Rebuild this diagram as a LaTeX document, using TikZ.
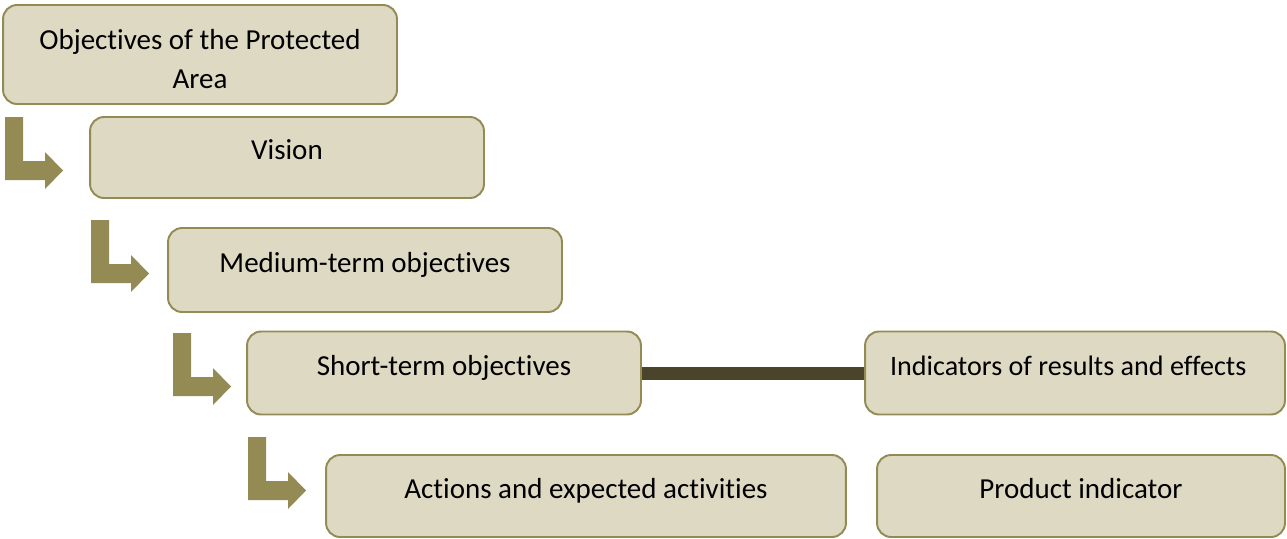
\documentclass[tikz,border=0pt]{standalone}
\usepackage{fontspec}
\setmainfont{Carlito}[Ligatures=NoCommon]
\definecolor{tanfill}{HTML}{DDD9C3}
\definecolor{olivedraw}{HTML}{948A54}
\definecolor{linkdark}{HTML}{4A452A}
\begin{document}
\begin{tikzpicture}[x=0.02cm,y=-0.02cm,
  planbox/.style={draw=olivedraw, fill=tanfill, line width=1.1pt,
    rounded corners=0.28cm, inner sep=0pt,
    font=\fontsize{16.5}{22}\selectfont},
  oneline/.style={text height=2.5pt, text depth=0pt},
  bentarrow/.style={fill=olivedraw},
  link/.style={draw=linkdark, line width=0.26cm}]
\useasboundingbox (0,0) rectangle (1287,538);

% the levels of the plan
\node[planbox, align=center, text height=38.5pt, text depth=0pt,
  minimum width=7.88cm, minimum height=1.98cm]
  (objectives) at (200,54.5) {Objectives of the Protected\\Area};
\node[planbox, oneline, minimum width=7.88cm, minimum height=1.62cm]
  (vision) at (287,157.5) {Vision};
\node[planbox, oneline, minimum width=7.88cm, minimum height=1.68cm]
  (medium) at (365,270) {Medium-term objectives};
\node[planbox, oneline, minimum width=7.88cm, minimum height=1.66cm]
  (short) at (444,373) {Short-term objectives};
\node[planbox, oneline, minimum width=10.4cm, minimum height=1.64cm]
  (actions) at (586,496) {Actions and expected activities};

% indicators
\node[planbox, oneline, font=\fontsize{16}{20}\selectfont, inner xsep=0.5cm,
  text width=7.4cm, align=flush left, minimum width=8.4cm, minimum height=1.66cm]
  (results) at (1075,373) {Indicators of results and effects};
\node[planbox, oneline, minimum width=8.16cm, minimum height=1.64cm]
  (product) at (1081,496) {Product indicator};

\draw[link] (short.east) -- (results.west);

% bent arrows between the levels
\foreach \x/\y in {5/117, 91/220, 173/333, 248/437}
  \fill[bentarrow] (\x,\y) -- ++(18,0) -- ++(0,44) -- ++(22,0) -- ++(0,-9)
    -- ++(18,18.5) -- ++(-18,18.5) -- ++(0,-9) -- ++(-40,0) -- cycle;
\end{tikzpicture}
\end{document}
